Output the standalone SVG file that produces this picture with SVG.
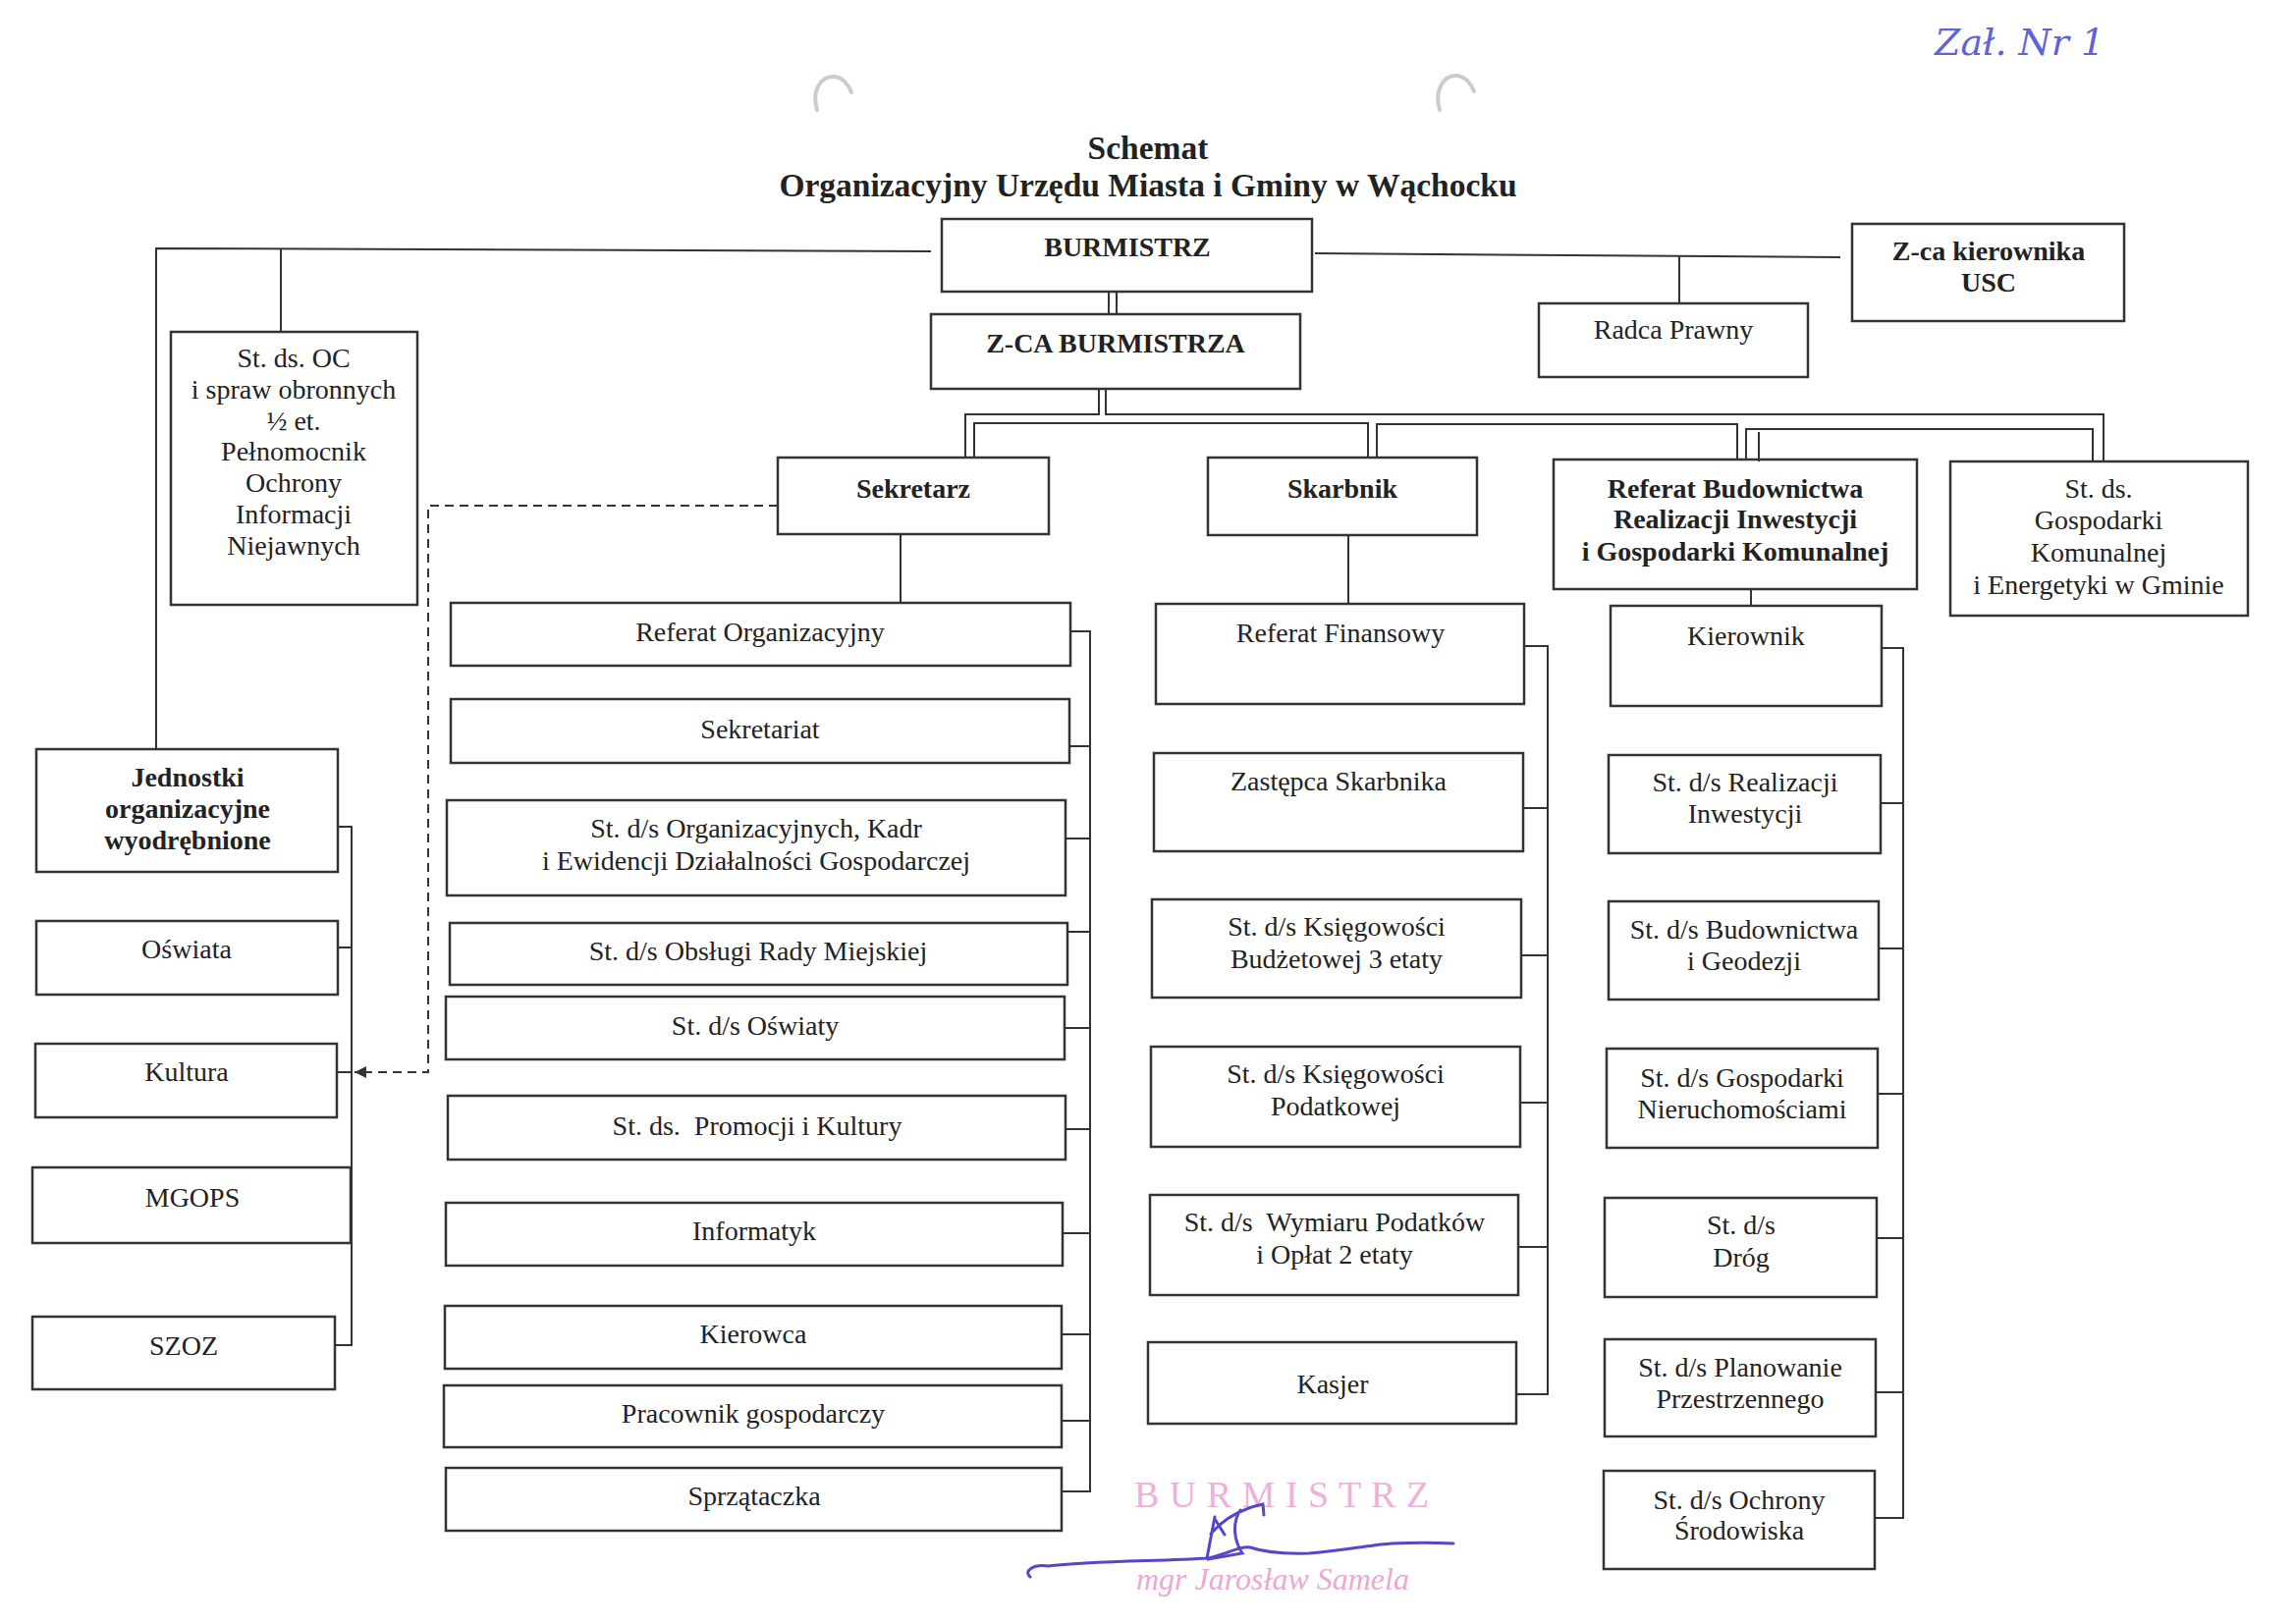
<svg xmlns="http://www.w3.org/2000/svg" width="2338" height="1653" viewBox="0 0 2338 1653">
<style>
.t{font-family:"Liberation Serif","Times New Roman",serif;font-size:28px;fill:#222;text-anchor:middle}
.b{font-weight:bold}
.pre{white-space:pre}
.box{fill:none;stroke:#333;stroke-width:2.5}
.ln{fill:none;stroke:#333;stroke-width:2}
.dash{fill:none;stroke:#333;stroke-width:2;stroke-dasharray:9 6}
</style>
<defs>
<marker id="arr" viewBox="0 0 10 10" refX="10" refY="5" markerUnits="userSpaceOnUse" markerWidth="16" markerHeight="12" orient="auto">
<path d="M0,0 L10,5 L0,10 z" fill="#333"/>
</marker>
</defs>
<rect width="2338" height="1653" fill="#fff"/>

<g id="scan-marks" fill="none" stroke="#c8cccc" stroke-width="4" stroke-linecap="round">
<path d="M832,112 C826,92 836,77 850,78 C858,79 864,86 867,94"/>
<path d="M1466,112 C1460,92 1470,76 1484,77 C1492,78 1498,85 1501,93"/>
</g>

<g id="title">
<text class="t b" x="1169" y="162" style="font-size:33.5px">Schemat</text>
<text class="t b" x="1169" y="200" style="font-size:33.5px">Organizacyjny Urzędu Miasta i Gminy w Wąchocku</text>
</g>

<g id="handwriting">
<text x="1970" y="56" style="font-family:'DejaVu Serif',serif;font-style:italic;font-size:38px;fill:#5f63d8">Zał. Nr 1</text>
</g>

<g id="connectors">
<path class="ln" d="M948,256 L159,253 L159,763"/>
<path class="ln" d="M286,254 V338"/>
<path class="ln" d="M1339,258 L1874,262"/>
<path class="ln" d="M1710,260 V309"/>
<path class="ln" d="M1129,297 V320 M1137,297 V320"/>
<path class="ln" d="M1119,396 V422 H983 V466"/>
<path class="ln" d="M1126,396 V422 H2142 V470"/>
<path class="ln" d="M992,466 V431 H1393 V466"/>
<path class="ln" d="M1402,466 V432 H1769 V468"/>
<path class="ln" d="M1778,468 V437 H2131 V470"/>
<path class="ln" d="M1791,440 V470"/>
<path class="ln" d="M917,544 V614"/>
<path class="ln" d="M1373,545 V615"/>
<path class="ln" d="M1783,600 V617"/>
<path class="ln" d="M1090,643 H1110 V1519 H1081 M1089,760 H1110 M1085,854 H1110 M1087,949 H1110 M1084,1047 H1110 M1085,1150 H1110 M1082,1256 H1110 M1081,1359 H1110 M1081,1447 H1110"/>
<path class="ln" d="M1552,658 H1576 V1420 H1544 M1551,823 H1576 M1549,973 H1576 M1548,1123 H1576 M1546,1270 H1576"/>
<path class="ln" d="M1916,660 H1938 V1546 H1909 M1915,818 H1938 M1913,966 H1938 M1912,1114 H1938 M1911,1261 H1938 M1910,1418 H1938"/>
<path class="ln" d="M344,842 H358 V1370 H341 M344,965 H358 M343,1092 H358"/>
<path class="dash" d="M792,515 H436 V1092 H361" marker-end="url(#arr)"/>
</g>

<g id="burmistrz"><rect class="box" x="959" y="223" width="377" height="74"/><text class="t b" x="1148" y="261">BURMISTRZ</text></g>
<g id="zca-burmistrza"><rect class="box" x="948" y="320" width="376" height="76"/><text class="t b" x="1136" y="359">Z-CA BURMISTRZA</text></g>
<g id="zca-usc"><rect class="box" x="1886" y="228" width="277" height="99"/><text class="t b" x="2025" y="265">Z-ca kierownika</text><text class="t b" x="2025" y="297">USC</text></g>
<g id="radca"><rect class="box" x="1567" y="309" width="274" height="75"/><text class="t" x="1704" y="345">Radca Prawny</text></g>
<g id="st-oc"><rect class="box" x="174" y="338" width="251" height="278"/>
<text class="t" x="299" y="374">St. ds. OC</text>
<text class="t" x="299" y="406">i spraw obronnych</text>
<text class="t" x="299" y="438">½ et.</text>
<text class="t" x="299" y="469">Pełnomocnik</text>
<text class="t" x="299" y="501">Ochrony</text>
<text class="t" x="299" y="533">Informacji</text>
<text class="t" x="299" y="565">Niejawnych</text></g>

<g id="sekretarz"><rect class="box" x="792" y="466" width="276" height="78"/><text class="t b" x="930" y="507">Sekretarz</text></g>
<g id="skarbnik"><rect class="box" x="1230" y="466" width="274" height="79"/><text class="t b" x="1367" y="507">Skarbnik</text></g>
<g id="referat-budownictwa"><rect class="box" x="1582" y="468" width="370" height="132"/>
<text class="t b" x="1767" y="507">Referat Budownictwa</text>
<text class="t b" x="1767" y="538">Realizacji Inwestycji</text>
<text class="t b" x="1767" y="571">i Gospodarki Komunalnej</text></g>
<g id="st-gospodarki"><rect class="box" x="1986" y="470" width="303" height="157"/>
<text class="t" x="2137" y="507">St. ds.</text>
<text class="t" x="2137" y="539">Gospodarki</text>
<text class="t" x="2137" y="572">Komunalnej</text>
<text class="t" x="2137" y="605">i Energetyki w Gminie</text></g>

<g id="jednostki"><rect class="box" x="37" y="763" width="307" height="125"/>
<text class="t b" x="191" y="801">Jednostki</text>
<text class="t b" x="191" y="833">organizacyjne</text>
<text class="t b" x="191" y="865">wyodrębnione</text></g>
<g id="oswiata"><rect class="box" x="37" y="938" width="307" height="75"/><text class="t" x="190" y="976">Oświata</text></g>
<g id="kultura"><rect class="box" x="36" y="1063" width="307" height="75"/><text class="t" x="190" y="1101">Kultura</text></g>
<g id="mgops"><rect class="box" x="33" y="1189" width="324" height="77"/><text class="t" x="196" y="1229">MGOPS</text></g>
<g id="szoz"><rect class="box" x="33" y="1341" width="308" height="74"/><text class="t" x="187" y="1380">SZOZ</text></g>

<g id="referat-organizacyjny"><rect class="box" x="459" y="614" width="631" height="64"/><text class="t" x="774" y="653">Referat Organizacyjny</text></g>
<g id="sekretariat"><rect class="box" x="459" y="712" width="630" height="65"/><text class="t" x="774" y="752">Sekretariat</text></g>
<g id="st-organizacyjnych"><rect class="box" x="455" y="815" width="630" height="97"/><text class="t" x="770" y="853">St. d/s Organizacyjnych, Kadr</text><text class="t" x="770" y="886">i Ewidencji Działalności Gospodarczej</text></g>
<g id="st-obslugi-rady"><rect class="box" x="458" y="940" width="629" height="63"/><text class="t" x="772" y="978">St. d/s Obsługi Rady Miejskiej</text></g>
<g id="st-oswiaty"><rect class="box" x="454" y="1015" width="630" height="64"/><text class="t" x="769" y="1054">St. d/s Oświaty</text></g>
<g id="st-promocji"><rect class="box" x="456" y="1116" width="629" height="65"/><text class="t pre" x="771" y="1156">St. ds.  Promocji i Kultury</text></g>
<g id="informatyk"><rect class="box" x="454" y="1225" width="628" height="64"/><text class="t" x="768" y="1263">Informatyk</text></g>
<g id="kierowca"><rect class="box" x="453" y="1330" width="628" height="64"/><text class="t" x="767" y="1368">Kierowca</text></g>
<g id="pracownik"><rect class="box" x="452" y="1411" width="629" height="63"/><text class="t" x="767" y="1449">Pracownik gospodarczy</text></g>
<g id="sprzataczka"><rect class="box" x="454" y="1495" width="627" height="64"/><text class="t" x="768" y="1533">Sprzątaczka</text></g>

<g id="referat-finansowy"><rect class="box" x="1177" y="615" width="375" height="102"/><text class="t" x="1365" y="654">Referat Finansowy</text></g>
<g id="zastepca-skarbnika"><rect class="box" x="1175" y="767" width="376" height="100"/><text class="t" x="1363" y="805">Zastępca Skarbnika</text></g>
<g id="ksiegowosc-budzetowa"><rect class="box" x="1173" y="916" width="376" height="100"/><text class="t" x="1361" y="953">St. d/s Księgowości</text><text class="t" x="1361" y="986">Budżetowej 3 etaty</text></g>
<g id="ksiegowosc-podatkowa"><rect class="box" x="1172" y="1066" width="376" height="102"/><text class="t" x="1360" y="1103">St. d/s Księgowości</text><text class="t" x="1360" y="1136">Podatkowej</text></g>
<g id="wymiar-podatkow"><rect class="box" x="1171" y="1217" width="375" height="102"/><text class="t pre" x="1359" y="1254">St. d/s  Wymiaru Podatków</text><text class="t" x="1359" y="1287">i Opłat 2 etaty</text></g>
<g id="kasjer"><rect class="box" x="1169" y="1367" width="375" height="83"/><text class="t" x="1357" y="1419">Kasjer</text></g>

<g id="kierownik"><rect class="box" x="1640" y="617" width="276" height="102"/><text class="t" x="1778" y="657">Kierownik</text></g>
<g id="realizacji-inwestycji"><rect class="box" x="1638" y="769" width="277" height="100"/><text class="t" x="1777" y="806">St. d/s Realizacji</text><text class="t" x="1777" y="838">Inwestycji</text></g>
<g id="budownictwa-geodezji"><rect class="box" x="1638" y="918" width="275" height="100"/><text class="t" x="1776" y="956">St. d/s Budownictwa</text><text class="t" x="1776" y="988">i Geodezji</text></g>
<g id="nieruchomosci"><rect class="box" x="1636" y="1068" width="276" height="101"/><text class="t" x="1774" y="1107">St. d/s Gospodarki</text><text class="t" x="1774" y="1139">Nieruchomościami</text></g>
<g id="drog"><rect class="box" x="1634" y="1220" width="277" height="101"/><text class="t" x="1773" y="1257">St. d/s</text><text class="t" x="1773" y="1290">Dróg</text></g>
<g id="planowanie"><rect class="box" x="1634" y="1364" width="276" height="99"/><text class="t" x="1772" y="1402">St. d/s Planowanie</text><text class="t" x="1772" y="1434">Przestrzennego</text></g>
<g id="ochrona-srodowiska"><rect class="box" x="1633" y="1498" width="276" height="100"/><text class="t" x="1771" y="1537">St. d/s Ochrony</text><text class="t" x="1771" y="1568">Środowiska</text></g>

<g id="stamp">
<text x="1155" y="1535" style="font-family:'Liberation Serif',serif;font-size:38px;fill:#efb0da;letter-spacing:0.5px">B U R M I S T R Z</text>
<path d="M1049,1606 C1042,1600 1052,1593 1067,1595 C1110,1590 1180,1590 1230,1587 C1250,1583 1262,1574 1273,1576 C1285,1580 1300,1583 1333,1582 C1370,1579 1400,1573 1417,1572 C1440,1571 1460,1571 1480,1572" fill="none" stroke="#5448c8" stroke-width="3" stroke-linecap="round"/>
<path d="M1229,1587 L1237,1545 M1233,1562 C1245,1548 1262,1537 1286,1532 L1287,1543 M1263,1538 C1254,1552 1257,1570 1265,1582 L1230,1588 M1237,1547 L1247,1563" fill="none" stroke="#5448c8" stroke-width="3" stroke-linecap="round"/>
<text x="1157" y="1619" style="font-family:'Liberation Serif',serif;font-style:italic;font-size:32px;fill:#eaa8d6">mgr Jarosław Samela</text>
</g>
</svg>
